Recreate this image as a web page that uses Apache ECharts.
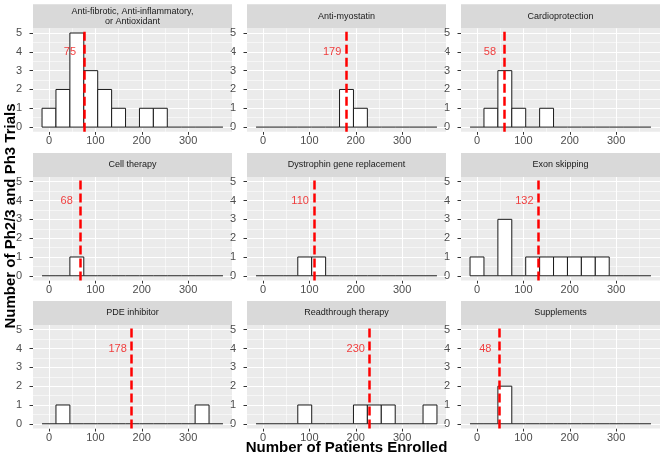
<!DOCTYPE html>
<html>
<head>
<meta charset="utf-8">
<script src="https://cdn.jsdelivr.net/npm/echarts@6/dist/echarts.min.js"></script>
<style>html,body{margin:0;padding:0;background:#fff}#c{width:662px;height:461px}</style>
</head>
<body>
<div id="c"></div>
<script>
// ---- data ----
const panelTitles = [
  "Anti-fibrotic, Anti-inflammatory,\nor Antioxidant",
  "Anti-myostatin",
  "Cardioprotection",
  "Cell therapy",
  "Dystrophin gene replacement",
  "Exon skipping",
  "PDE inhibitor",
  "Readthrough therapy",
  "Supplements"
];
const binCenters = [0, 30, 60, 90, 120, 150, 180, 210, 240, 270, 300, 330, 360];
const binWidth = 30;
const countsAntiFibrotic   = [1, 2, 5, 3, 2, 1, 0, 1, 1, 0, 0, 0, 0];
const countsAntiMyostatin  = [0, 0, 0, 0, 0, 0, 2, 1, 0, 0, 0, 0, 0];
const countsCardio         = [0, 1, 3, 1, 0, 1, 0, 0, 0, 0, 0, 0, 0];
const countsCellTherapy    = [0, 0, 1, 0, 0, 0, 0, 0, 0, 0, 0, 0, 0];
const countsDystrophin     = [0, 0, 0, 1, 1, 0, 0, 0, 0, 0, 0, 0, 0];
const countsExonSkipping   = [1, 0, 3, 0, 1, 1, 1, 1, 1, 1, 0, 0, 0];
const countsPDE            = [0, 1, 0, 0, 0, 0, 0, 0, 0, 0, 0, 1, 0];
const countsReadthrough    = [0, 0, 0, 1, 0, 0, 0, 1, 1, 1, 0, 0, 1];
const countsSupplements    = [0, 0, 2, 0, 0, 0, 0, 0, 0, 0, 0, 0, 0];
const medians = [75, 179, 58, 68, 110, 132, 178, 230, 48];
const labelOffset = 30;   // median label drawn 30 units left of the line
const labelY = 4;
const xTicks = [0, 100, 200, 300];
const xMinor = [50, 150, 250, 350];
const yTicks = [0, 1, 2, 3, 4, 5];
const yMinor = [0.5, 1.5, 2.5, 3.5, 4.5];
const xTitle = "Number of Patients Enrolled";
const yTitle = "Number of Ph2/3 and Ph3 Trials";

const allCounts = [countsAntiFibrotic, countsAntiMyostatin, countsCardio, countsCellTherapy,
  countsDystrophin, countsExonSkipping, countsPDE, countsReadthrough, countsSupplements];

// ---- layout ----
const colLeft = [33, 247, 461];
const panelW = 199;
const rowTop = [28.3, 177, 325];
const panelH = 103.5;
const stripH = 24;

const grids = [], xAxes = [], yAxes = [], series = [], graphics = [];
const FONT = "Liberation Sans, Arial, sans-serif";

for (let i = 0; i < 9; i++) {
  const r = Math.floor(i / 3), c = i % 3;
  grids.push({left: colLeft[c], top: rowTop[r], width: panelW, height: panelH,
    show: true, backgroundColor: '#EBEBEB', borderWidth: 0, containLabel: false});
  xAxes.push({type: 'value', gridIndex: i, min: -34.5, max: 394.5,
    axisLine: {show: true, onZero: false, lineStyle: {color: 'rgba(0,0,0,0)', width: 0}},
    splitLine: {show: false},
    axisTick: {show: true, customValues: xTicks, length: 3, lineStyle: {color: '#333333', width: 1}},
    axisLabel: {customValues: xTicks, color: '#4D4D4D', fontSize: 11, fontFamily: FONT, margin: 3.5}});
  yAxes.push({type: 'value', gridIndex: i, min: -0.25, max: 5.25,
    axisLine: {show: true, onZero: false, lineStyle: {color: 'rgba(0,0,0,0)', width: 0}},
    splitLine: {show: false},
    axisTick: {show: true, customValues: yTicks, length: 3.5, lineStyle: {color: '#333333', width: 1}},
    axisLabel: {customValues: yTicks, color: '#4D4D4D', fontSize: 11, fontFamily: FONT, margin: 11}});

  // grid lines
  const mk = [];
  xMinor.forEach(v => mk.push({xAxis: v, lineStyle: {color: '#fff', width: 0.55, type: 'solid'}}));
  yMinor.forEach(v => mk.push({yAxis: v, lineStyle: {color: '#fff', width: 0.55, type: 'solid'}}));
  xTicks.forEach(v => mk.push({xAxis: v, lineStyle: {color: '#fff', width: 1.1, type: 'solid'}}));
  yTicks.forEach(v => mk.push({yAxis: v, lineStyle: {color: '#fff', width: 1.1, type: 'solid'}}));
  series.push({type: 'line', xAxisIndex: i, yAxisIndex: i, data: [], z: 1, silent: true,
    markLine: {z: 1, silent: true, symbol: ['none', 'none'], label: {show: false}, animation: false, data: mk}});

  // histogram bars
  const data = binCenters.map((b, k) => [b, allCounts[i][k]]);
  series.push({type: 'custom', xAxisIndex: i, yAxisIndex: i, z: 3, silent: true, animation: false,
    data: data,
    renderItem: function (params, api) {
      const x = api.value(0), n = api.value(1);
      const p1 = api.coord([x - binWidth / 2, n]);
      const p2 = api.coord([x + binWidth / 2, 0]);
      if (n === 0) {
        return {type: 'line', shape: {x1: p1[0], y1: p2[1], x2: p2[0], y2: p2[1]},
          style: {stroke: '#1a1a1a', lineWidth: 1}};
      }
      return {type: 'rect', shape: {x: p1[0], y: p1[1], width: p2[0] - p1[0], height: p2[1] - p1[1]},
        style: {fill: '#fff', stroke: '#1a1a1a', lineWidth: 1}};
    }
  });

  // median line + label
  series.push({type: 'scatter', xAxisIndex: i, yAxisIndex: i, z: 6, silent: true, animation: false,
    symbolSize: 1, itemStyle: {color: 'rgba(0,0,0,0)'},
    data: [[medians[i] - labelOffset, labelY, medians[i]]],
    label: {show: true, position: 'inside', color: '#F01010', fontSize: 11, fontFamily: FONT,
      formatter: p => String(p.value[2])},
    markLine: {z: 5, silent: true, symbol: ['none', 'none'], label: {show: false}, animation: false,
      data: [{xAxis: medians[i], lineStyle: {color: '#FF0000', width: 2.5, type: [9, 4]}}]}
  });

  // strip
  graphics.push({type: 'rect', left: colLeft[c], top: rowTop[r] - stripH,
    shape: {width: panelW, height: stripH}, style: {fill: '#D9D9D9'}, silent: true});
  graphics.push({type: 'text', x: colLeft[c] + panelW / 2, y: rowTop[r] - stripH / 2,
    style: {text: panelTitles[i], fill: '#1A1A1A', font: '9px ' + FONT, align: 'center',
      verticalAlign: 'middle', lineHeight: 10}, silent: true});
}

graphics.push({type: 'text', x: 346.5, y: 448, style: {text: xTitle, fill: '#000',
  font: 'bold 15px ' + FONT, align: 'center', verticalAlign: 'middle'}});
graphics.push({type: 'text', x: 11, y: 216, rotation: Math.PI / 2, style: {text: yTitle, fill: '#000',
  font: 'bold 15px ' + FONT, align: 'center', verticalAlign: 'middle'}});

const chart = echarts.init(document.getElementById('c'), null, {renderer: 'canvas'});
chart.setOption({animation: false, grid: grids, xAxis: xAxes, yAxis: yAxes, series: series, graphic: graphics});
</script>
</body>
</html>
